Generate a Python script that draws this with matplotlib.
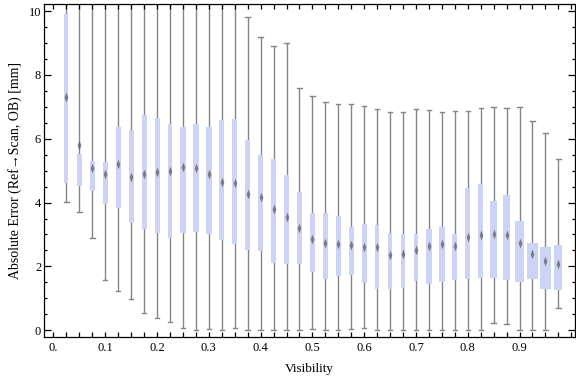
import matplotlib
matplotlib.use("Agg")
import matplotlib.pyplot as plt
from matplotlib.patches import Rectangle
from matplotlib.ticker import MultipleLocator, FixedLocator
import numpy as np

plt.rcParams['font.family'] = ['Liberation Serif', 'DejaVu Serif']

# visibility bins (centres)
visibility = [0.025 * k for k in range(1, 40)]

# whisker ends, quartiles and centre marker (mm); tops of 1-14 run off the chart
whisk_hi = [10.6, 10.6, 10.6, 10.6, 10.6, 10.6, 10.6, 10.6, 10.6, 10.6,
            10.6, 10.6, 10.6, 10.6, 9.80, 9.18, 8.89, 8.99, 7.58, 7.33,
            7.14, 7.10, 7.08, 7.02, 6.92, 6.83, 6.83, 6.92, 6.89, 6.83,
            6.86, 6.86, 6.95, 6.99, 6.95, 6.99, 6.55, 6.17, 5.36]
q3 = [9.91, 5.52, 5.30, 5.26, 6.37, 6.28, 6.74, 6.65, 6.46, 6.37,
      6.46, 6.37, 6.59, 6.62, 5.96, 5.49, 5.36, 4.87, 4.33, 3.68,
      3.68, 3.58, 3.23, 3.33, 3.30, 3.05, 3.02, 3.02, 3.18, 3.24,
      3.01, 4.45, 4.59, 4.04, 4.24, 3.43, 2.74, 2.61, 2.68]
centre = [7.32, 5.80, 5.09, 4.91, 5.22, 4.81, 4.91, 4.96, 5.00, 5.10,
          5.08, 4.90, 4.64, 4.61, 4.28, 4.16, 3.79, 3.54, 3.21, 2.85,
          2.72, 2.71, 2.67, 2.62, 2.61, 2.35, 2.38, 2.52, 2.65, 2.71,
          2.64, 2.93, 2.98, 3.00, 2.99, 2.72, 2.39, 2.17, 2.07]
q1 = [4.60, 4.53, 4.35, 3.97, 3.83, 3.37, 3.16, 3.06, 2.90, 3.06,
      3.09, 3.03, 2.84, 2.69, 2.50, 2.48, 2.12, 2.09, 2.09, 1.81,
      1.62, 1.71, 1.74, 1.49, 1.28, 1.28, 1.31, 1.53, 1.46, 1.50,
      1.56, 1.62, 1.65, 1.65, 1.59, 1.50, 1.62, 1.28, 1.25]
whisk_lo = [4.01, 3.70, 2.89, 1.57, 1.23, 0.98, 0.54, 0.38, 0.26, 0.07,
            0.01, 0.04, 0.01, 0.07, 0.01, 0.01, 0.01, 0.01, 0.01, 0.04,
            0.01, 0.01, 0.04, 0.07, 0.01, 0.01, 0.01, 0.01, 0.01, 0.01,
            0.01, 0.01, 0.01, 0.23, 0.20, 0.01, 0.01, 0.01, 0.70]

# box widths in pixels as drawn
box_px = [4, 5, 5, 5, 5.3, 5, 5, 5, 4, 6,
          6, 5.7, 5, 5.3, 5, 5.3, 5, 5.3, 5.3, 5.3,
          5, 5.3, 4.7, 4.7, 4.3, 4.7, 4.3, 4.3, 5.7, 5.3,
          5, 5, 5, 7, 7.3, 9, 11, 11.3, 8]

fig = plt.figure(figsize=(5.76, 3.77), dpi=100)
ax = fig.add_axes([0.0764, 0.107, 0.9216, 0.8816])
ax.set_xlim(-0.0183, 1.0068)
ax.set_ylim(-0.2, 10.21)

px = 1.0 / 517.5  # data units per pixel in x
box_col = '#ccd3f6'
line_col = '#858585'
# slim vertical diamond for the centre mark
slim_diamond = [(0, 1), (0.38, 0), (0, -1), (-0.38, 0), (0, 1)]

for x, lo, a, m, b, hi, w in zip(visibility, whisk_lo, q1, centre, q3, whisk_hi, box_px):
    ax.plot([x, x], [lo, hi], color=line_col, lw=1.0, zorder=1, solid_capstyle='butt')
    for yy in (lo, hi):
        ax.plot([x - 2.2 * px, x + 2.2 * px], [yy, yy], color=line_col, lw=1.0, zorder=1)
    ax.add_patch(Rectangle((x - w * px / 2, a), w * px, b - a,
                           facecolor=box_col, edgecolor='none', zorder=2))
    ax.plot(x, m, marker=slim_diamond, ms=7, mew=0, color='#5e5e5e', alpha=0.75, zorder=3)

ax.xaxis.set_major_locator(FixedLocator([0.1 * i for i in range(10)]))
ax.set_xticklabels(['0.'] + ['%.1f' % (0.1 * i) for i in range(1, 10)])
ax.xaxis.set_minor_locator(MultipleLocator(0.025))
ax.yaxis.set_major_locator(MultipleLocator(2))
ax.yaxis.set_minor_locator(MultipleLocator(0.5))

ax.tick_params(which='both', direction='in', top=True, right=True,
               labelsize=9, colors='black', width=0.9)
ax.tick_params(axis='y', which='major', length=5, pad=2)
ax.tick_params(axis='y', which='minor', length=2.5)
ax.tick_params(axis='x', which='major', length=3.5, pad=4)
ax.tick_params(axis='x', which='minor', length=3.5)
for s in ax.spines.values():
    s.set_linewidth(0.9)

ax.set_xlabel('Visibility', fontsize=9.5, labelpad=6)
ax.set_ylabel('Absolute Error (Ref\u2192Scan, OB) [mm]', fontsize=10, labelpad=5)

fig.savefig('out.png', dpi=100)
